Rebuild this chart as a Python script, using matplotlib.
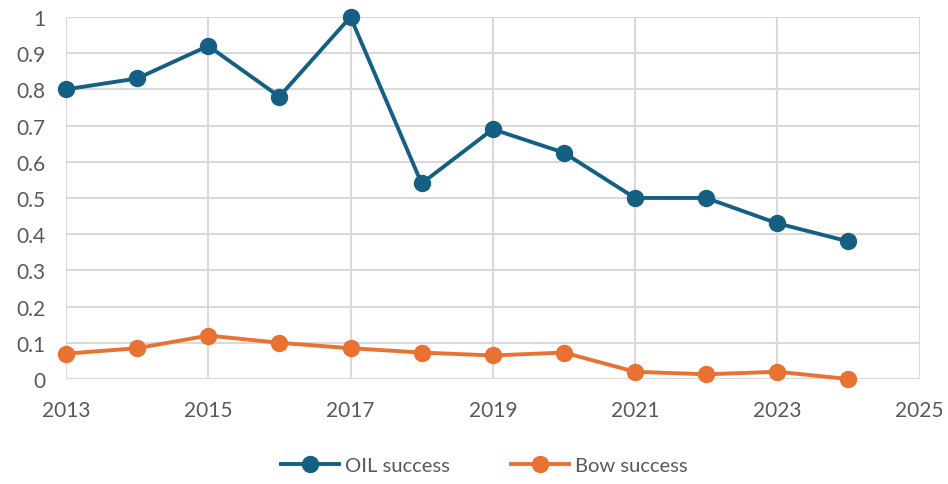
import matplotlib
matplotlib.use("Agg")
import matplotlib.pyplot as plt
from matplotlib.ticker import FuncFormatter

years = [2013, 2014, 2015, 2016, 2017, 2018, 2019, 2020, 2021, 2022, 2023, 2024]
oil_success = [0.80, 0.83, 0.92, 0.78, 1.00, 0.54, 0.69, 0.625, 0.50, 0.50, 0.43, 0.38]
bow_success = [0.07, 0.085, 0.12, 0.10, 0.085, 0.073, 0.065, 0.073, 0.02, 0.013, 0.02, 0.0]

BLUE = "#156082"
ORANGE = "#E97132"
TEXT = "#595959"
GRID = "#D9D9D9"

plt.rcParams["font.family"] = ["Lato", "DejaVu Sans"]

fig = plt.figure(figsize=(9.48, 4.85), dpi=100)
ax = fig.add_axes([0.0696, 0.2165, 0.9004, 0.7465])

ax.plot(years, oil_success, color=BLUE, linewidth=2.8, marker="o", markersize=11.5,
        label="OIL success", zorder=3, clip_on=False)
ax.plot(years, bow_success, color=ORANGE, linewidth=2.8, marker="o", markersize=11.5,
        label="Bow success", zorder=3, clip_on=False)

ax.set_xlim(2013, 2025)
ax.set_ylim(0, 1)
ax.set_xticks(range(2013, 2026, 2))
ax.set_yticks([i / 10 for i in range(11)])
ax.yaxis.set_major_formatter(FuncFormatter(lambda v, p: f"{v:g}"))

for s in ax.spines.values():
    s.set_visible(False)
ax.grid(True, color=GRID, linewidth=1.5, zorder=0)
ax.axhline(0, color="#BFBFBF", linewidth=1.5, zorder=1)
ax.tick_params(length=0, labelsize=15, colors=TEXT)
ax.tick_params(axis="y", pad=15)
ax.tick_params(axis="x", pad=15)

ax.legend(loc="upper center", bbox_to_anchor=(0.49, -0.165), ncol=2, frameon=False,
          fontsize=14.5, labelcolor=TEXT, handlelength=2.9, columnspacing=3.0,
          handletextpad=0.3)

fig.savefig("out.png", dpi=100, facecolor="white")
